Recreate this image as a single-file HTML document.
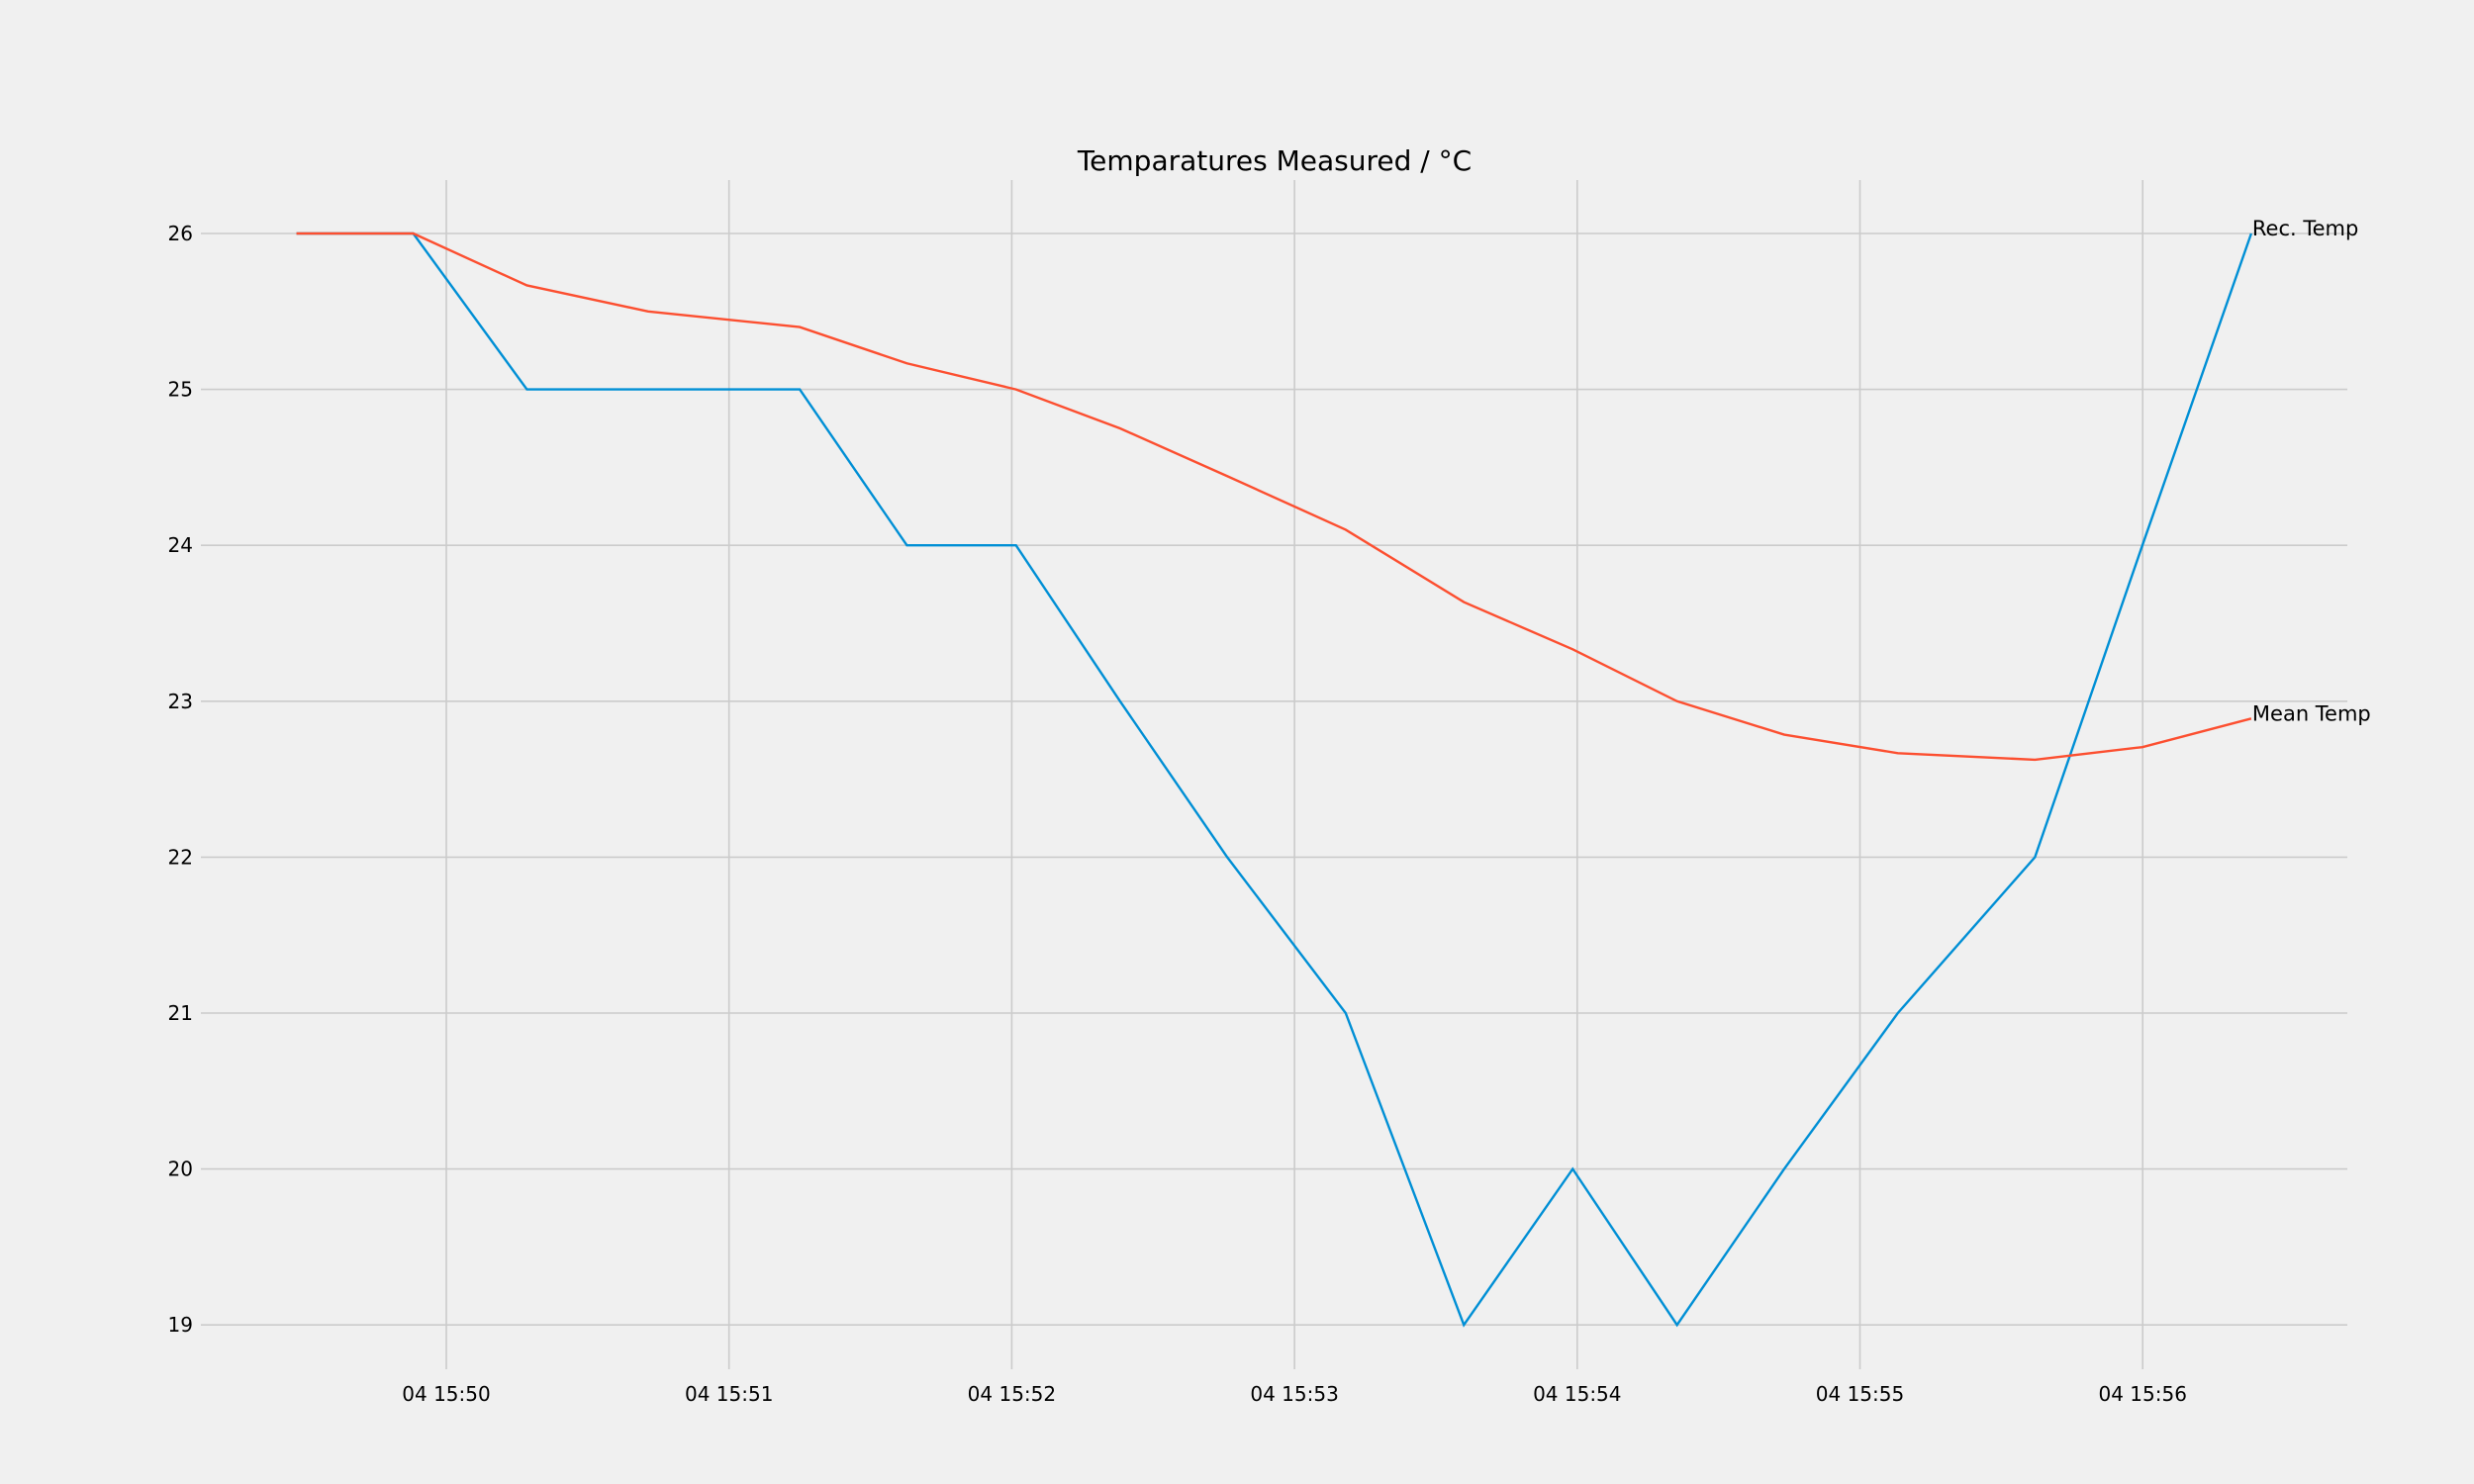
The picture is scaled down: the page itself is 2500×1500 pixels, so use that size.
<!DOCTYPE html>
<html><head><meta charset="utf-8"><style>
html,body{margin:0;padding:0;background:#f0f0f0;}
svg{display:block;font-family:"DejaVu Sans","Liberation Sans",sans-serif;}
</style></head><body>
<svg id="chart" width="2500" height="1500" viewBox="0 0 2500 1500">
<rect width="2500" height="1500" fill="#f0f0f0"/>
<text x="1288" y="172" font-size="28" text-anchor="middle" fill="#000">Temparatures Measured / °C</text>
<g id="grid"></g><g id="series"></g><g id="labels"></g>
</svg>
<script>
const minutes = [-0.530,-0.117,0.285,0.714,1.250,1.629,2.015,2.383,2.762,3.181,3.599,3.984,4.353,4.732,5.134,5.619,5.999,6.384];
const recTemp = [26,26,25,25,25,24,24,23,22,21,19,20,19,20,21,22,24,26];
const meanTemp = [26,26,25.667,25.5,25.4,25.167,25.0,24.75,24.444,24.1,23.636,23.333,23.0,22.786,22.667,22.625,22.706,22.889];
const xTickVals = [0,1,2,3,4,5,6];
const xTickLabels = ["04 15:50","04 15:51","04 15:52","04 15:53","04 15:54","04 15:55","04 15:56"];
const yTickVals = [19,20,21,22,23,24,25,26];

const NS="http://www.w3.org/2000/svg";
const sx = m => 451 + m*285.7;
const sy = v => 236 + (26-v)*157.6;
const L=203,R=2372,T=182,B=1384;
function mk(tag,attrs,parent){const e=document.createElementNS(NS,tag);for(const k in attrs)e.setAttribute(k,attrs[k]);parent.appendChild(e);return e;}
const grid=document.getElementById('grid'),series=document.getElementById('series'),labels=document.getElementById('labels');
yTickVals.forEach(v=>{
  const l=mk('line',{x1:L,x2:R,y1:sy(v),y2:sy(v),stroke:'#cbcbcb','stroke-width':1.6},grid);
  
  
  const t=mk('text',{x:195,y:sy(v)+7,'font-size':20,'text-anchor':'end',fill:'#000'},labels);
  t.textContent=String(v);
  
  
});
xTickVals.forEach((m,i)=>{
  const l=mk('line',{x1:sx(m),x2:sx(m),y1:T,y2:B,stroke:'#cbcbcb','stroke-width':1.6},grid);
  
  
  const t=mk('text',{x:sx(m),y:1416,'font-size':20,'text-anchor':'middle',fill:'#000'},labels);
  t.textContent=xTickLabels[i];
  
  
});
function line(vals,color,name){
  const p=mk('polyline',{points:vals.map((v,i)=>sx(minutes[i])+','+sy(v)).join(' '),fill:'none',stroke:color,'stroke-width':2.4,'stroke-linejoin':'miter'},series);
  
  
}
line(recTemp,'#008fd5','rec-temp-line');
line(meanTemp,'#fc4f30','mean-temp-line');
const n=minutes.length-1;
const a=mk('text',{x:sx(minutes[n])+1,y:sy(recTemp[n])+2,'font-size':21,fill:'#000'},labels);
a.textContent='Rec. Temp';


const b=mk('text',{x:sx(minutes[n])+1,y:sy(meanTemp[n])+2,'font-size':21,fill:'#000'},labels);
b.textContent='Mean Temp';


</script>
</body></html>
